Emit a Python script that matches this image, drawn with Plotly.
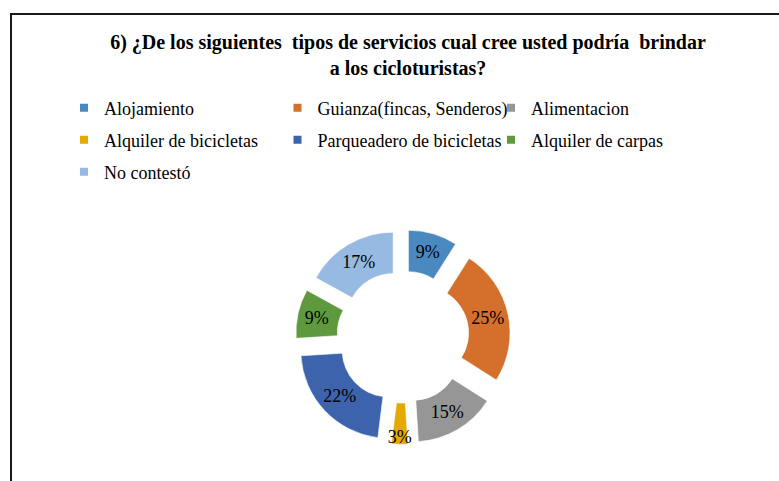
import plotly.graph_objects as go

W, H = 779, 481

categories = [
    "Alojamiento",
    "Guianza(fincas, Senderos)",
    "Alimentacion",
    "Alquiler de bicicletas",
    "Parqueadero de bicicletas",
    "Alquiler de carpas",
    "No contestó",
]
percentages = [9, 25, 15, 3, 22, 9, 17]
colors = ["#4A89C0", "#D46F2C", "#969696", "#E5AA00", "#3C63AC", "#5E9A3D", "#97BAE2"]

title_text = "6) ¿De los siguientes  tipos de servicios cual cree usted podría  brindar<br>a los cicloturistas?"

# pie geometry (pixels)
cx, cy, half = 403, 337, 107.5
legend_rows_y = [108, 140, 172]
legend_names = ["legend", "legend2", "legend3"]

fig = go.Figure()
fig.add_trace(go.Pie(
    labels=categories,
    values=percentages,
    sort=False,
    direction="clockwise",
    rotation=0,
    hole=0.53,
    pull=[0.22] * len(categories),
    marker=dict(colors=colors, line=dict(color="rgba(255,255,255,0.6)", width=1)),
    texttemplate="%{value}%",
    textposition="inside",
    insidetextorientation="horizontal",
    textfont=dict(family="Liberation Serif", size=18, color="black"),
    hoverinfo="label+percent",
    showlegend=False,
    domain=dict(x=[(cx - half) / W, (cx + half) / W],
                y=[1 - (cy + half) / H, 1 - (cy - half) / H]),
))

# legend entries (3 per row, like the original)
for i, (name, col) in enumerate(zip(categories, colors)):
    fig.add_trace(go.Scatter(
        x=[None], y=[None], mode="markers", name=name,
        marker=dict(symbol="square", size=8, color=col),
        legend=legend_names[i // 3],
        hoverinfo="skip",
    ))

legend_common = dict(
    orientation="h",
    xanchor="left",
    yanchor="middle",
    entrywidth=168.5, entrywidthmode="pixels",
    font=dict(family="Liberation Serif", size=18, color="black"),
    bgcolor="rgba(0,0,0,0)",
    traceorder="normal",
)

fig.update_layout(
    width=W, height=H,
    margin=dict(l=0, r=0, t=0, b=0),
    paper_bgcolor="white",
    plot_bgcolor="white",
    xaxis=dict(visible=False),
    yaxis=dict(visible=False),
    uniformtext=dict(minsize=18, mode="show"),
    title=dict(
        text=title_text,
        x=408 / W, xanchor="center",
        y=1 - 49 / H, yanchor="top",
        font=dict(family="Liberation Serif", size=20, color="black", weight="bold"),
    ),
    legend=dict(legend_common, x=64 / W, y=1 - legend_rows_y[0] / H),
    legend2=dict(legend_common, x=64 / W, y=1 - legend_rows_y[1] / H),
    legend3=dict(legend_common, x=64 / W, y=1 - legend_rows_y[2] / H),
    showlegend=True,
    shapes=[dict(
        type="rect", xref="paper", yref="paper",
        x0=11 / W, x1=1.05, y0=-0.05, y1=1 - 14 / H,
        line=dict(color="#1a1a1a", width=2),
        fillcolor="rgba(0,0,0,0)",
    )],
)

fig.write_html("out.html", config={"displayModeBar": False},
               post_script="document.body.style.margin='0';")
